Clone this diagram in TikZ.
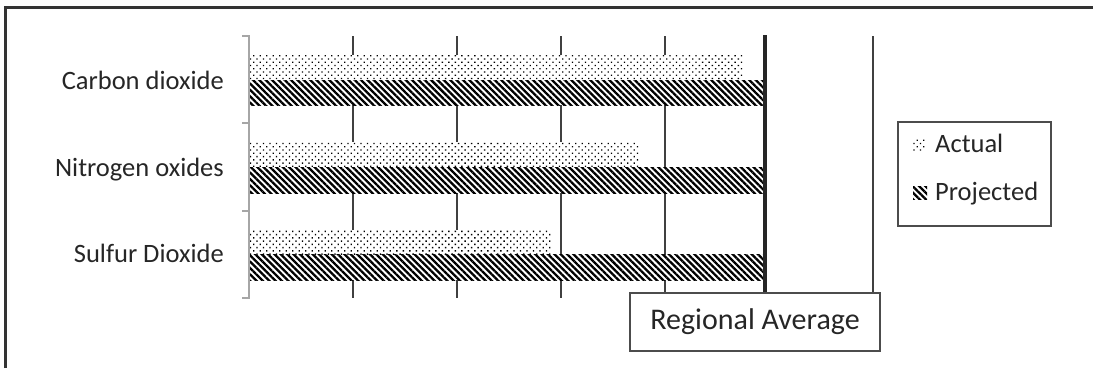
\documentclass[tikz,border=0pt]{standalone}
\usepackage{fontspec}
\setmainfont{Carlito}
\usetikzlibrary{patterns.meta}
\tikzset{ cat_style/.style = { anchor = base east % category label
        , inner sep = 0pt
        , font = \fontsize{26.5}{30}\selectfont
        , text = black!85
        }
        , key_style/.style = { anchor = base west % legend text
        , inner sep = 0pt
        , font = \fontsize{26.5}{30}\selectfont
        , text = black!85
        }
        , actual_style/.style = { fill = white % dotted bar
        , postaction = {pattern = {Dots[distance=4.6pt, radius=0.95pt, angle=45]}}
        }
        , projected_style/.style = { fill = white % striped bar
        , postaction = {pattern = {Lines[angle=-45, distance=4.5pt, line width=2.3pt]}}
        }
        }

\begin{document}
\begin{tikzpicture}[x=1pt, y=-1pt,
        grid_style/.style={draw=black!75, line width=1.2pt},
        axis_style/.style={draw=black!35, line width=2pt},
        box_style/.style={draw=black!70, line width=1.2pt, fill=white, inner sep=0pt},
        avg_style/.style={draw=black!85, line width=4.5pt}]
        \useasboundingbox (0,0) rectangle (1095,368);

        % outer frame
        \draw [draw=black!80, line width=3pt] (5,368) -- (5,7) -- (1093,7);

        % grid
        \draw [grid_style] (353,36) -- (353,298);
        \draw [grid_style] (457,36) -- (457,298);
        \draw [grid_style] (561,36) -- (561,298);
        \draw [grid_style] (665,36) -- (665,298);
        \draw [grid_style] (873,36) -- (873,298);

        % category axis
        \draw [axis_style] (242,36) -- (249,36) -- (249,298) -- (242,298);
        \draw [axis_style] (242,123.3) -- (249,123.3);
        \draw [axis_style] (242,210.7) -- (249,210.7);

        % bars
        \path [actual_style] (250,55) rectangle (742,80);
        \path [projected_style] (250,80) rectangle (766,105);
        \path [actual_style] (250,142.3) rectangle (638,167.3);
        \path [projected_style] (250,167.3) rectangle (766,193);
        \path [actual_style] (250,229.7) rectangle (551,254.7);
        \path [projected_style] (250,254.7) rectangle (766,280);

        % labels
        \node [cat_style] (co2) at (224,89) {Carbon dioxide};
        \node [cat_style] (nox) at (224,176) {Nitrogen oxides};
        \node [cat_style] (so2) at (224,262) {Sulfur Dioxide};

        % legend
        \node [box_style, minimum width=153pt, minimum height=104pt] (legend) at (974.5,174) {};
        \path [actual_style] (913,138) rectangle (926,151);
        \path [projected_style] (913,186) rectangle (927,199);
        \node [key_style] (actual) at (935,152) {Actual};
        \node [key_style] (projected) at (935,200) {Projected};

        % regional average
        \node [box_style, minimum width=250pt, minimum height=58pt,
            font=\fontsize{30}{34}\selectfont, text=black!85] (avg) at (755,322) {Regional Average};
        \coordinate (avg_top) at (765,35);
        \draw [avg_style] (avg_top) -- (avg_top |- avg.north);
\end{tikzpicture}
\end{document}
